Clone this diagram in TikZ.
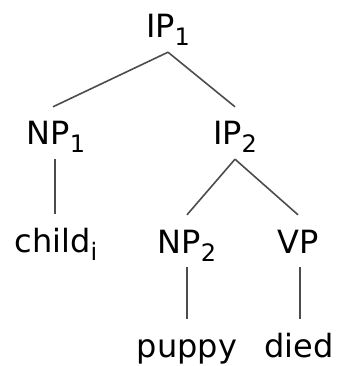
\documentclass[tikz,border=0pt]{standalone}
\usepackage{fontspec}
\setmainfont{DejaVu Sans}
\tikzset{cn/.style={anchor=base, inner sep=8pt, text height=30pt, text depth=6pt, font=\fontsize{32}{32}\selectfont},
         br/.style={draw=black!70, line width=1.6pt}}
\newcommand{\lowidx}[1]{\raisebox{-8pt}{\fontsize{24}{24}\selectfont #1}}

\begin{document}
\begin{tikzpicture}[x=1pt,y=-1pt]
                \useasboundingbox (0,0) rectangle (339,366);
                % \SetUpTree
                \node[cn] (ip1) at (168,38) {IP\lowidx{1}};
                \node[cn] (np1) at (56,145) {NP\lowidx{1}};
                \node[cn] (ip2) at (235,145) {IP\lowidx{2}};
                \node[cn] (child) at (56,252) {child\lowidx{i}};
                \node[cn] (np2) at (187,253) {NP\lowidx{2}};
                \node[cn] (vp) at (298,253) {VP};
                \node[cn] (puppy) at (187,357) {puppy};
                \node[cn] (died) at (299,357) {died};
                \path (ip1.south) edge[br] ([xshift=-3pt]np1.north);
                \path (ip1.south) edge[br] (ip2.north);
                \path ([xshift=-1pt]np1.south) edge[br] ([xshift=-1pt]child.north);
                \path (ip2.south) edge[br] (np2.north);
                \path (ip2.south) edge[br] (vp.north);
                \path (np2.south) edge[br] (puppy.north);
                \path ([xshift=2pt]vp.south) edge[br] ([xshift=1pt]died.north);
            \end{tikzpicture}
\end{document}
